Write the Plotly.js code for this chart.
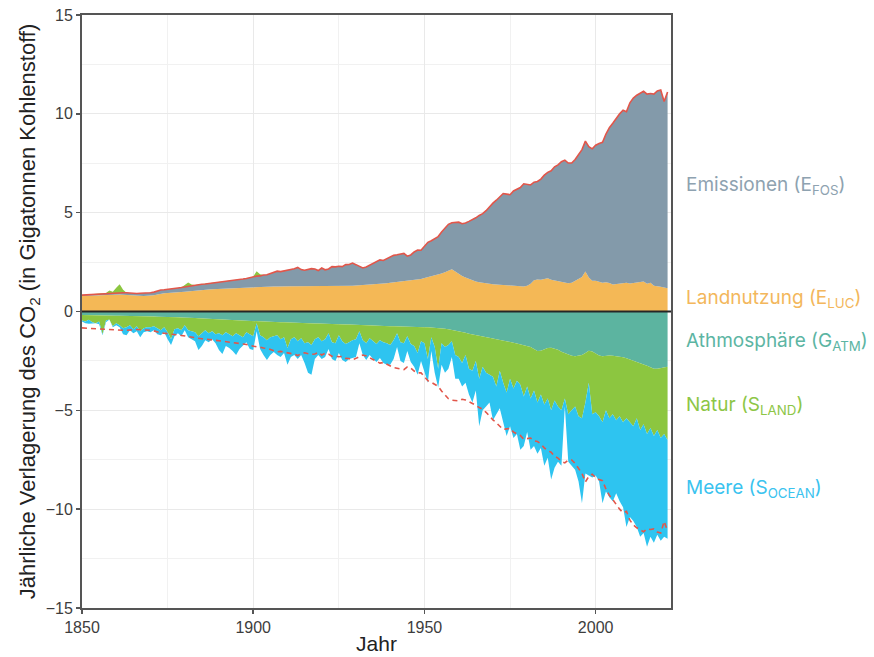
<!DOCTYPE html>
<html>
<head>
<meta charset="utf-8">
<script src="https://cdn.plot.ly/plotly-3.0.1.min.js"></script>
<style>
html,body{margin:0;padding:0;background:#fff;}
#chart{width:874px;height:657px;}
</style>
</head>
<body>
<div id="chart"></div>
<script>
// ---- data (GtC per year) ----
const firstYear = 1850;
const lastYear = 2021;
const years = [];
for (let y = firstYear; y <= lastYear; y++) years.push(y);

// Landnutzung (E_LUC)
const eLuc = [
0.78,0.79,0.80,0.81,0.82,0.83,0.84,0.85,0.86,0.86,
0.86,0.86,0.85,0.84,0.82,0.80,0.79,0.79,0.79,0.80,
0.80,0.82,0.86,0.90,0.92,0.94,0.96,0.97,0.98,0.99,
1.00,1.02,1.04,1.06,1.08,1.09,1.10,1.11,1.12,1.13,
1.14,1.15,1.16,1.17,1.18,1.19,1.20,1.21,1.22,1.23,
1.24,1.25,1.25,1.26,1.26,1.27,1.27,1.27,1.28,1.28,
1.28,1.28,1.28,1.28,1.27,1.27,1.27,1.27,1.27,1.27,
1.27,1.27,1.28,1.28,1.28,1.29,1.29,1.29,1.30,1.30,
1.31,1.32,1.33,1.34,1.35,1.36,1.38,1.39,1.41,1.43,
1.45,1.47,1.49,1.50,1.52,1.54,1.56,1.58,1.60,1.64,
1.70,1.74,1.78,1.82,1.86,1.92,1.98,2.08,2.14,2.02,
1.90,1.80,1.72,1.64,1.56,1.52,1.48,1.45,1.42,1.40,
1.38,1.37,1.36,1.35,1.34,1.33,1.30,1.28,1.27,1.26,
1.30,1.40,1.58,1.62,1.60,1.66,1.68,1.60,1.56,1.52,
1.48,1.44,1.43,1.45,1.55,1.62,1.75,2.02,1.72,1.55,
1.55,1.50,1.46,1.48,1.44,1.36,1.38,1.40,1.42,1.45,
1.42,1.44,1.46,1.50,1.52,1.40,1.45,1.30,1.26,1.25,
1.22,1.18];

// Emissionen (E_FOS)
const eFos = [
0.05,0.05,0.06,0.06,0.07,0.07,0.08,0.08,0.08,0.09,
0.09,0.10,0.10,0.11,0.11,0.12,0.12,0.13,0.13,0.14,
0.15,0.16,0.18,0.19,0.18,0.19,0.20,0.20,0.21,0.22,
0.24,0.25,0.27,0.28,0.28,0.29,0.29,0.30,0.32,0.33,
0.36,0.37,0.37,0.37,0.38,0.40,0.41,0.43,0.45,0.49,
0.53,0.54,0.55,0.59,0.60,0.64,0.69,0.77,0.74,0.77,
0.82,0.84,0.88,0.95,0.85,0.82,0.86,0.90,0.88,0.80,
0.93,0.84,0.87,0.99,0.98,1.00,0.98,1.08,1.08,1.15,
1.06,0.97,0.87,0.91,1.00,1.05,1.14,1.22,1.17,1.24,
1.33,1.37,1.38,1.42,1.42,1.26,1.30,1.43,1.51,1.46,
1.63,1.76,1.80,1.86,1.93,2.10,2.24,2.33,2.35,2.48,
2.62,2.64,2.76,2.92,3.08,3.22,3.38,3.50,3.68,3.90,
4.10,4.26,4.44,4.62,4.60,4.58,4.80,4.92,5.00,5.20,
5.14,5.00,4.96,4.96,5.10,5.24,5.36,5.52,5.76,5.90,
6.10,6.22,6.08,6.06,6.14,6.30,6.44,6.60,6.62,6.68,
6.86,7.00,7.10,7.50,7.86,8.16,8.40,8.60,8.76,8.66,
9.14,9.36,9.48,9.56,9.62,9.60,9.58,9.70,9.90,9.96,
9.40,9.92];

// occasional land source drawn above the emission line
const landSourceYears  = [1858,1859,1860,1861,1862,1880,1881,1882,1901,1902];
const landSourceValues = [0.12,0.05,0.25,0.42,0.15,0.10,0.20,0.05,0.25,0.08];

// Athmosphäre (G_ATM) – teal band below zero
const gAtm = [
0.18,0.18,0.19,0.19,0.19,0.20,0.20,0.20,0.21,0.21,
0.21,0.22,0.22,0.22,0.23,0.23,0.23,0.24,0.24,0.24,
0.25,0.25,0.26,0.26,0.27,0.27,0.28,0.28,0.29,0.30,
0.30,0.31,0.32,0.33,0.34,0.35,0.36,0.37,0.38,0.39,
0.40,0.41,0.42,0.43,0.44,0.45,0.46,0.46,0.47,0.48,
0.49,0.50,0.50,0.51,0.52,0.52,0.53,0.54,0.55,0.55,
0.56,0.57,0.58,0.58,0.59,0.59,0.60,0.60,0.61,0.61,
0.62,0.62,0.63,0.63,0.64,0.65,0.65,0.66,0.66,0.67,
0.67,0.68,0.68,0.69,0.70,0.70,0.71,0.72,0.72,0.73,
0.74,0.74,0.75,0.75,0.76,0.77,0.77,0.78,0.78,0.79,
0.80,0.80,0.81,0.82,0.83,0.85,0.87,0.90,0.93,0.97,
1.00,1.04,1.08,1.12,1.16,1.20,1.24,1.28,1.31,1.34,
1.37,1.40,1.43,1.46,1.50,1.54,1.58,1.62,1.66,1.70,
1.74,1.80,1.90,2.00,1.98,1.90,1.85,1.84,1.88,1.94,
2.04,2.10,2.16,2.24,2.26,2.22,2.20,2.10,1.98,2.02,
2.12,2.22,2.26,2.24,2.22,2.24,2.26,2.28,2.32,2.36,
2.42,2.46,2.52,2.58,2.66,2.74,2.82,2.90,2.90,2.86,
2.82,2.80];

// Natur (S_LAND) – green band
const sLand = [
0.27,0.32,0.23,0.36,0.41,0.30,0.95,0.25,0.19,0.54,
0.39,0.48,0.63,0.58,0.47,0.67,0.52,0.76,0.61,0.56,
0.55,0.50,0.59,0.69,0.53,0.78,1.12,0.62,0.56,0.65,
0.40,0.64,0.68,0.72,0.91,0.75,0.59,0.73,0.62,0.76,
0.70,0.79,0.63,0.72,0.81,0.65,0.74,0.84,0.58,0.67,
0.76,0.10,0.70,0.79,0.93,0.78,0.72,0.66,0.85,0.75,
1.29,0.83,0.72,0.92,0.76,1.01,0.95,1.10,0.79,0.69,
0.88,0.78,0.47,0.92,0.96,0.55,0.85,0.99,0.89,0.78,
0.73,0.32,0.77,0.91,0.65,0.80,0.94,0.73,0.83,0.87,
0.96,0.71,0.35,0.80,0.84,0.48,0.88,0.97,1.32,0.71,
0.80,1.60,0.49,0.98,2.07,0.75,0.93,0.80,0.57,1.23,
1.30,1.56,1.12,1.78,1.84,1.30,2.16,1.52,1.79,1.86,
1.93,2.40,1.57,2.14,2.60,1.86,2.32,1.88,2.04,2.60,
2.06,2.60,2.10,2.60,2.22,2.80,2.55,3.16,2.62,2.86,
2.96,2.30,3.04,2.76,2.54,3.08,3.20,2.50,1.62,3.18,
2.98,3.08,3.34,2.76,3.18,2.96,3.24,3.02,3.28,3.04,
3.18,3.34,2.88,3.42,3.04,3.46,3.08,3.40,3.10,3.54,
3.38,3.70];

// Meere (S_OCEAN) – blue band
const sOcean = [
0.05,0.10,0.20,0.05,0.00,0.15,0.05,0.10,0.00,0.05,
0.10,0.10,0.30,0.40,0.25,0.20,0.25,0.30,0.20,0.20,
0.25,0.20,0.30,0.25,0.25,0.35,0.30,0.35,0.25,0.30,
0.25,0.35,0.40,0.45,0.70,0.65,0.50,0.45,0.40,0.45,
0.85,0.95,0.70,0.70,0.75,1.10,0.70,0.45,0.50,0.75,
0.70,0.40,0.70,0.90,1.00,0.90,0.80,1.00,0.90,0.80,
0.85,0.90,0.90,0.90,0.85,1.00,1.55,1.50,1.00,0.90,
0.90,0.90,0.80,0.85,0.90,0.90,0.95,0.90,0.85,0.90,
0.90,0.60,0.75,0.85,0.85,0.90,0.90,0.90,1.05,1.10,
1.00,0.95,0.70,0.95,1.00,0.75,0.90,1.05,1.10,1.00,
1.40,1.20,0.70,1.30,0.95,1.10,1.30,1.20,0.80,1.20,
1.10,1.20,1.40,1.30,1.60,1.50,2.40,2.20,1.70,1.40,
2.20,1.40,1.90,2.00,2.20,2.40,2.50,2.70,3.30,2.50,
2.30,2.60,2.80,2.60,2.70,3.10,3.00,3.50,3.40,2.80,
2.80,0.40,2.40,2.80,3.20,3.30,4.30,3.60,4.70,3.20,
3.20,3.30,4.10,4.10,4.00,4.40,3.70,4.30,4.30,5.50,
4.80,4.80,5.50,5.40,5.50,5.70,5.50,5.40,5.30,5.20,
5.20,5.00];

const labels = {
  fos: 'Emissionen (E<sub>FOS</sub>)',
  luc: 'Landnutzung (E<sub>LUC</sub>)',
  atm: 'Athmosphäre (G<sub>ATM</sub>)',
  land: 'Natur (S<sub>LAND</sub>)',
  ocean: 'Meere (S<sub>OCEAN</sub>)'
};

// ---- styling ----
const C = {
  fos: 'rgb(131,154,170)',
  luc: 'rgb(244,184,86)',
  atm: 'rgb(92,180,160)',
  land: 'rgb(140,198,64)',
  ocean: 'rgb(46,196,240)',
  red: 'rgb(226,86,74)'
};
const labelColors = {
  fos: '#8ea2b0', luc: '#f3b75c', atm: '#5cb5a3', land: '#8dc646', ocean: '#3ac3ef'
};

// derived series
const landSource = years.map(y => {
  const k = landSourceYears.indexOf(y);
  return k >= 0 ? landSourceValues[k] : 0;
});
const total = years.map((y, i) => eLuc[i] + eFos[i]);
const negTotal = total.map(v => -v);
const neg = arr => arr.map(v => -v);

const area = (y, color, group, name) => ({
  x: years, y: y, type: 'scatter', mode: 'lines', stackgroup: group,
  line: {width: 0, color: color}, fillcolor: color, name: name,
  hoverinfo: 'skip', showlegend: false
});

const traces = [
  area(eLuc, C.luc, 'pos', 'E_LUC'),
  area(eFos, C.fos, 'pos', 'E_FOS'),
  area(landSource, C.land, 'pos', 'S_LAND source'),
  area(neg(gAtm), C.atm, 'neg', 'G_ATM'),
  area(neg(sLand), C.land, 'neg', 'S_LAND'),
  area(neg(sOcean), C.ocean, 'neg', 'S_OCEAN'),
  {x: years, y: total, type: 'scatter', mode: 'lines',
   line: {color: C.red, width: 1.6}, showlegend: false, hoverinfo: 'skip'},
  {x: years, y: negTotal, type: 'scatter', mode: 'lines',
   line: {color: C.red, width: 1.6, dash: '5px,4px'}, showlegend: false, hoverinfo: 'skip'}
];

const labelY = {fos: 6.35, luc: 0.64, atm: -1.53, land: -4.76, ocean: -8.95};
const annotations = Object.keys(labels).map(k => ({
  xref: 'paper', yref: 'y', x: 1.022, y: labelY[k], xanchor: 'left', yanchor: 'middle',
  text: labels[k], showarrow: false,
  font: {family: 'Inter, "Noto Sans", sans-serif', size: 19, color: labelColors[k]}
}));

const tickFont = {family: '"Liberation Sans", Arial, sans-serif', size: 16, color: '#3d3d3d'};
const layout = {
  width: 874, height: 657,
  margin: {l: 82, r: 203, t: 15, b: 49},
  paper_bgcolor: '#fff', plot_bgcolor: '#fff',
  showlegend: false,
  xaxis: {
    range: [1850, 2022], tick0: 1850, dtick: 50,
    showgrid: true, gridcolor: '#e9e9e9', gridwidth: 1,
    minor: {dtick: 25, tick0: 1850, showgrid: true, gridcolor: '#f1f1f1', gridwidth: 1, ticks: ''},
    zeroline: false,
    showline: true, linecolor: '#555', linewidth: 2, mirror: true,
    ticks: 'outside', ticklen: 4, tickcolor: '#555', tickwidth: 1.5,
    tickfont: tickFont,
    title: {text: 'Jahr', font: {family: '"Liberation Sans", Arial, sans-serif', size: 21, color: '#222'}, standoff: 1}
  },
  yaxis: {
    range: [-15, 15], tick0: 0, dtick: 5,
    showgrid: true, gridcolor: '#e9e9e9', gridwidth: 1,
    minor: {dtick: 2.5, showgrid: true, gridcolor: '#f1f1f1', gridwidth: 1, ticks: ''},
    zeroline: false,
    showline: true, linecolor: '#555', linewidth: 2, mirror: true,
    ticks: 'outside', ticklen: 4, tickcolor: '#555', tickwidth: 1.5,
    tickfont: tickFont,
    title: {text: 'Jährliche Verlagerung des CO<sub>2</sub> (in Gigatonnen Kohlenstoff)',
            font: {family: '"Liberation Sans", Arial, sans-serif', size: 22, color: '#222'}, standoff: 4}
  },
  shapes: [{type: 'line', xref: 'paper', x0: 0, x1: 1, yref: 'y', y0: 0, y1: 0,
            line: {color: '#262626', width: 2}, layer: 'above'}],
  annotations: annotations
};

Plotly.newPlot('chart', traces, layout, {displayModeBar: false, staticPlot: true});
</script>
</body>
</html>
